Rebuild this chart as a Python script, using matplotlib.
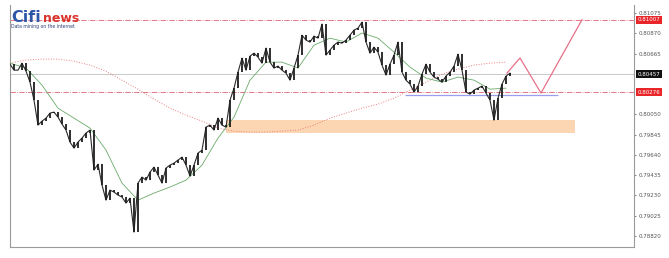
import numpy as np
import matplotlib.pyplot as plt
import matplotlib.transforms as mtransforms

# closing prices, one bar per index
closes = [
    0.80558, 0.80497, 0.80497, 0.80568, 0.80487, 0.80376, 0.80194, 0.79941, 0.79982, 0.80012,
    0.80063, 0.80073, 0.80022, 0.79952, 0.79891, 0.79770, 0.79709, 0.79770, 0.79810, 0.79861,
    0.79891, 0.79486, 0.79547, 0.79335, 0.79183, 0.79284, 0.79264, 0.79234, 0.79214, 0.79153,
    0.79203, 0.78860, 0.79355, 0.79416, 0.79385, 0.79466, 0.79517, 0.79436, 0.79355, 0.79507,
    0.79537, 0.79557, 0.79588, 0.79618, 0.79537, 0.79426, 0.79537, 0.79658, 0.79689, 0.79921,
    0.79941, 0.79891, 0.80012, 0.79941, 0.79921, 0.80194, 0.80315, 0.80477, 0.80619, 0.80497,
    0.80639, 0.80669, 0.80629, 0.80568, 0.80720, 0.80578, 0.80518, 0.80538, 0.80497, 0.80467,
    0.80396, 0.80518, 0.80649, 0.80851, 0.80801, 0.80781, 0.80841, 0.80821, 0.80963, 0.80649,
    0.80700, 0.80750, 0.80781, 0.80770, 0.80801, 0.80851, 0.80902, 0.80922, 0.80983, 0.80781,
    0.80669, 0.80730, 0.80679, 0.80548, 0.80447, 0.80558, 0.80649, 0.80781, 0.80477, 0.80396,
    0.80356, 0.80275, 0.80336, 0.80457, 0.80558, 0.80477, 0.80427, 0.80406, 0.80376, 0.80437,
    0.80477, 0.80538, 0.80659, 0.80497, 0.80275, 0.80255, 0.80295, 0.80315, 0.80336, 0.80265,
    0.80194, 0.79992, 0.80214, 0.80356, 0.80437, 0.80467,
]

# moving averages sampled every 4 bars
ma_idx = list(range(0, 125, 4))
ma_fast = [
    0.80568, 0.80518, 0.80346, 0.80113, 0.80012, 0.79911, 0.79689, 0.79355, 0.79183, 0.79254,
    0.79315, 0.79385, 0.79537, 0.79810, 0.80022, 0.80396, 0.80578, 0.80578, 0.80518, 0.80750,
    0.80821, 0.80781, 0.80872, 0.80821, 0.80679, 0.80528, 0.80417, 0.80376, 0.80427, 0.80396,
    0.80305, 0.80315,
]
ma_slow = [
    0.80568, 0.80599, 0.80609, 0.80609, 0.80588, 0.80548, 0.80487, 0.80396, 0.80305, 0.80204,
    0.80113, 0.80042, 0.79982, 0.79911, 0.79881, 0.79871, 0.79871, 0.79881, 0.79891, 0.79941,
    0.80012, 0.80063, 0.80113, 0.80154, 0.80214, 0.80295, 0.80376, 0.80457, 0.80507, 0.80548,
    0.80568, 0.80578,
]

# projected path
proj_x = [124.25, 127.5, 132.75, 143]
proj_y = [0.80468, 0.80620, 0.80266, 0.81007]

# levels
resistance = 0.81007
support = 0.80276
last_price = 0.80457
blue_level = 0.80245
blue_span = (98.75, 137)
zone = (0.79861, 0.79992)
zone_span = (54, 141.25)

ticks = [0.78820, 0.79025, 0.79230, 0.79435, 0.79640, 0.79845, 0.80050, 0.80665, 0.80870, 0.81075]

fig = plt.figure(figsize=(6.69, 2.58), dpi=100)
ax = fig.add_axes([10/669, 11/258, 624/669, 242/258])

# zone
ax.fill_between(zone_span, zone[0], zone[1], color='#fcd6b2', lw=0, zorder=1)

# level lines
ax.axhline(resistance, color='#e06070', lw=0.6, ls='-.', zorder=2)
ax.axhline(support, color='#e06070', lw=0.6, ls='-.', zorder=2)
ax.axhline(last_price, color='#c8c8c8', lw=0.7, zorder=2)
ax.hlines(blue_level, blue_span[0], blue_span[1], color='#9a9ef0', lw=0.9, zorder=2)

# moving averages
ax.plot(ma_idx, ma_slow, color='#ec8080', lw=0.7, ls=':', zorder=3)
ax.plot(ma_idx, ma_fast, color='#6aaa6a', lw=0.6, zorder=4)

# bars: open = previous close, joined by a thin line
c = np.array(closes)
o = np.concatenate([[c[0]], c[:-1]])
x = np.arange(len(c))
ax.plot(x, c, color='#2a2a2a', lw=0.8, zorder=5)
ax.vlines(x, np.minimum(o, c), np.maximum(o, c), color='#1e1e1e', lw=1.3, zorder=5)

# projection
ax.plot(proj_x, proj_y, color='#e8708a', lw=0.9, zorder=6)

ax.set_xlim(0, 156)
ax.set_ylim(0.78709, 0.81156)
ax.set_xticks([])
ax.yaxis.tick_right()
ax.set_yticks(ticks)
ax.set_yticklabels(['%.5f' % t for t in ticks])
ax.tick_params(axis='y', labelsize=4, colors='#555555', length=1.5, width=0.5, pad=1.5)
for s in ['left', 'bottom', 'right']:
    ax.spines[s].set_color('#9a9a9a')
    ax.spines[s].set_linewidth(0.8)
ax.spines['top'].set_visible(False)

# price boxes
tr = mtransforms.blended_transform_factory(ax.transAxes, ax.transData)
for val, bg in [(resistance, '#e8262a'), (support, '#e8262a'), (last_price, '#111111')]:
    ax.text(1.006, val, '%.5f' % val, transform=tr, fontsize=4, color='white',
            va='center', ha='left', clip_on=False,
            bbox=dict(boxstyle='square,pad=0.3', fc=bg, ec='none'))

# logo
fig.text(11/669, 1 - 22/258, 'Cifi', fontsize=11.5, fontweight='bold', color='#2d56a6')
fig.text(43/669, 1 - 22/258, 'news', fontsize=9, fontweight='bold', color='#d8352c')
fig.text(11/669, 1 - 28/258, 'Data mining on the internet', fontsize=3.3, color='#2b3f7a')

plt.savefig('out.png', dpi=100)
